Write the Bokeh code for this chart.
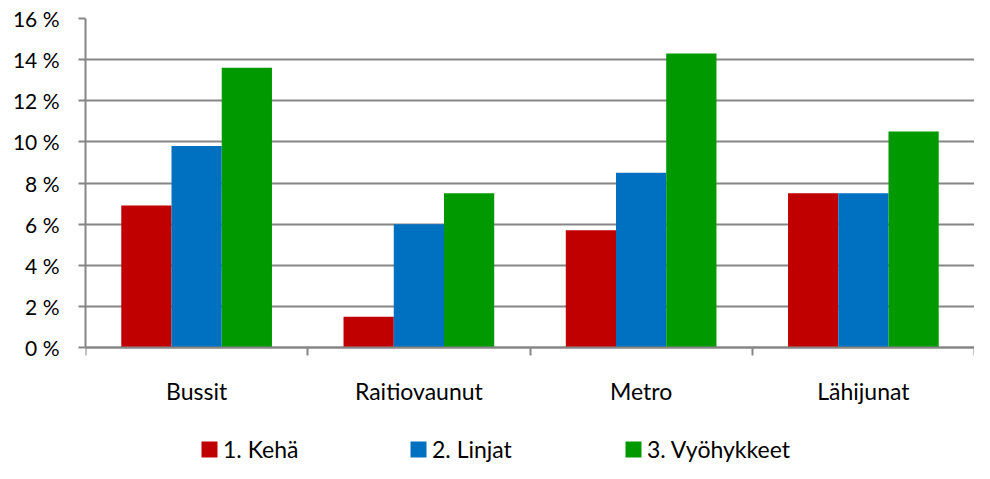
from bokeh.plotting import figure
from bokeh.models import (Range1d, LinearAxis, FixedTicker, Legend,
                          LegendItem, ColumnDataSource, Grid)
from bokeh.transform import dodge
from bokeh.embed import file_html
from bokeh.resources import INLINE

# ---- data ----
categories = ["Bussit", "Raitiovaunut", "Metro", "Lähijunat"]
series_names = ["1. Kehä", "2. Linjat", "3. Vyöhykkeet"]
kehae = [6.9, 1.5, 5.7, 7.5]
linjat = [9.8, 6.0, 8.5, 7.5]
vyohykkeet = [13.6, 7.5, 14.3, 10.5]
y_ticks = [0, 2, 4, 6, 8, 10, 12, 14, 16]
y_tick_labels = ["0 %", "2 %", "4 %", "6 %", "8 %", "10 %", "12 %", "14 %", "16 %"]

colors = ["#C00000", "#0070C0", "#009900"]
GRAY = "#868686"
FONT = "Lato"

# layout (pixels)
W, H = 974, 463
LEFT, TOP = 85, 18
PLOT_H = 329            # pixels from 16 % down to 0 %
BELOW = H - TOP - PLOT_H  # space under the 0 % line for labels and legend

# category slots: centre of slot i is i + 0.5, slot boundaries at integers
centres = [i + 0.5 for i in range(len(categories))]
bounds = list(range(len(categories) + 1))

source = ColumnDataSource(dict(xc=centres, cat=categories,
                               s0=kehae, s1=linjat, s2=vyohykkeet))

y_top = y_ticks[-1]
y_bottom = -y_top * BELOW / PLOT_H

p = figure(width=W, height=H,
           x_range=Range1d(0, len(categories)),
           y_range=Range1d(y_bottom, y_top),
           output_backend="svg", toolbar_location=None,
           x_axis_location=None, y_axis_location=None,
           min_border_left=LEFT, min_border_right=0,
           min_border_top=TOP, min_border_bottom=0)
p.outline_line_color = None
p.background_fill_color = None
for g in p.grid:
    g.visible = False

# y grid
ygrid = Grid(dimension=1, ticker=FixedTicker(ticks=y_ticks),
             grid_line_color=GRAY, grid_line_width=2)
p.add_layout(ygrid)

# bars
bw = 0.226
renderers = []
for i, col in enumerate(["s0", "s1", "s2"]):
    r = p.vbar(x=dodge("xc", (i - 1) * bw), top=col, width=bw,
               source=source, fill_color=colors[i], line_color=None)
    renderers.append(r)

# y axis
yaxis = LinearAxis(ticker=FixedTicker(ticks=y_ticks), bounds=(0, y_top),
                   major_label_overrides=dict(zip(y_ticks, y_tick_labels)),
                   axis_line_color=GRAY, axis_line_width=2,
                   major_tick_line_color=GRAY, major_tick_line_width=2,
                   major_tick_out=7, major_tick_in=0,
                   minor_tick_line_color=None,
                   major_label_standoff=19,
                   major_label_text_font=FONT,
                   major_label_text_font_size="21px",
                   major_label_text_color="#000000")
p.add_layout(yaxis, "left")

# x axis at 0 %: labels at category centres, tick marks at category boundaries
xaxis = LinearAxis(ticker=FixedTicker(ticks=centres, minor_ticks=bounds),
                   fixed_location=0,
                   major_label_overrides=dict(zip(centres, categories)),
                   axis_line_color=GRAY, axis_line_width=2,
                   major_tick_line_color=None, major_tick_out=0, major_tick_in=0,
                   minor_tick_line_color=GRAY, minor_tick_line_width=2,
                   minor_tick_out=8, minor_tick_in=0,
                   major_label_standoff=21,
                   major_label_text_font=FONT,
                   major_label_text_font_size="23px",
                   major_label_text_color="#000000")
p.add_layout(xaxis, "below")

# legends: one per series, under the category labels
leg_x = [114, 323, 538]
for i in range(3):
    leg = Legend(items=[LegendItem(label=series_names[i], renderers=[renderers[i]])],
                 location=(leg_x[i], 0), orientation="horizontal",
                 border_line_color=None, background_fill_alpha=0,
                 padding=0, margin=0, glyph_width=20, glyph_height=20,
                 label_standoff=4, label_text_font=FONT,
                 label_text_font_size="23px", label_text_color="#000000")
    p.add_layout(leg, "center")

open("out.html", "w").write(file_html(p, INLINE))
